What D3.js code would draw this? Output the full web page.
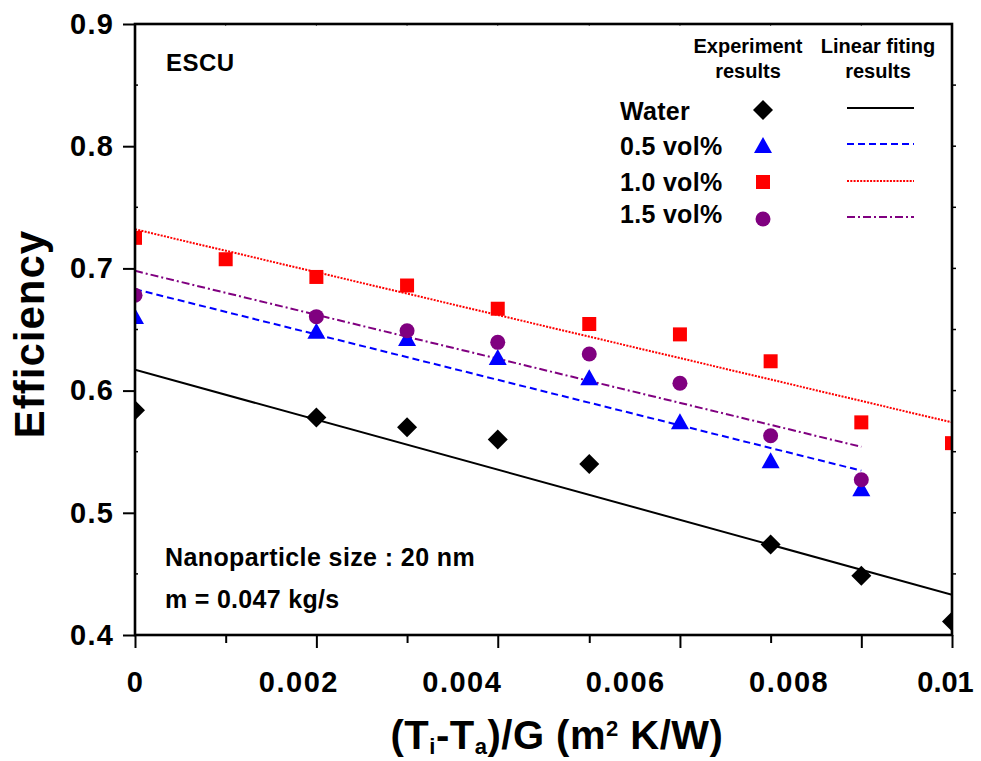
<!DOCTYPE html>
<html>
<head>
<meta charset="utf-8">
<script src="https://cdn.jsdelivr.net/npm/d3@7"></script>
<style>
  html, body { margin: 0; padding: 0; background: #fff; }
  svg { display: block; font-family: "Liberation Sans", Arial, Helvetica, sans-serif; font-weight: bold; }
</style>
</head>
<body>
<svg id="chart" width="981" height="761"></svg>
<script>
// Measurement positions (m2 K/W) shared by all series
const xPoints = [0, 0.00111, 0.00222, 0.00333, 0.00444, 0.00556, 0.00667, 0.00778, 0.00889, 0.01];

// Measured efficiency for each working fluid (null = not measured)
const waterEff = [0.584, null, 0.578, 0.570, 0.560, 0.540, null, 0.474, 0.4485, 0.411];
const vol05Eff = [0.661, null, 0.649, 0.643, 0.6275, 0.611, 0.575, 0.543, 0.520, null];
const vol10Eff = [0.725, 0.7075, 0.693, 0.686, 0.667, 0.6545, 0.646, 0.624, 0.574, 0.557];
const vol15Eff = [0.678, null, 0.6605, 0.649, 0.6395, 0.630, 0.606, 0.563, 0.527, null];

// Linear fits: start / end abscissa and efficiency
const seriesNames = ["Water", "0.5 vol%", "1.0 vol%", "1.5 vol%"];
const fitXStart = [0, 0, 0, 0];
const fitXEnd = [0.01, 0.00889, 0.01, 0.00889];
const fitYStart = [0.617, 0.683, 0.732, 0.698];
const fitYEnd = [0.433, 0.5345, 0.574, 0.554];

// Axis ticks
const xTickLabels = [0, 0.002, 0.004, 0.006, 0.008, 0.01];
const yTickLabels = [0.4, 0.5, 0.6, 0.7, 0.8, 0.9];
const yMinorTicks = [0.45, 0.55, 0.65, 0.75, 0.85];

const svg = d3.select("#chart");
const mLeft = 135, mRight = 952, mTop = 24, mBottom = 635;

const x = d3.scaleLinear().domain([0, 0.01]).range([mLeft, mRight]);
const y = d3.scaleLinear().domain([0.4, 0.9]).range([mBottom, mTop]);

const colors = ["#000000", "#0000ff", "#ff0000", "#800080"];
const dashes = [null, "7,4", "2,1.3", "8,3,2,3"];
const values = [waterEff, vol05Eff, vol10Eff, vol15Eff];

// Marker shapes
const shapes = {
  diamond: "M0,-10L10,0L0,10L-10,0Z",
  triangle: "M0,-8L9,8L-9,8Z",
  square: "M-7,-7L7,-7L7,7L-7,7Z",
  circle: "M7.5,0A7.5,7.5 0 1,1 -7.5,0A7.5,7.5 0 1,1 7.5,0Z"
};
const shapeOf = ["diamond", "triangle", "square", "circle"];

svg.append("rect").attr("width", 981).attr("height", 761).attr("fill", "#fff");

svg.append("defs").append("clipPath").attr("id", "plotClip")
  .append("rect").attr("x", mLeft).attr("y", mTop)
  .attr("width", mRight - mLeft).attr("height", mBottom - mTop);

const plot = svg.append("g").attr("clip-path", "url(#plotClip)");

// Fit lines
seriesNames.forEach((name, i) => {
  plot.append("line")
    .attr("x1", x(fitXStart[i])).attr("y1", y(fitYStart[i]))
    .attr("x2", x(fitXEnd[i])).attr("y2", y(fitYEnd[i]))
    .attr("stroke", colors[i]).attr("stroke-width", 2)
    .attr("stroke-dasharray", dashes[i]);
});

// Measured points
seriesNames.forEach((name, i) => {
  const pts = xPoints.map((xv, k) => [xv, values[i][k]]).filter(d => d[1] !== null);
  plot.append("g").selectAll("path").data(pts).join("path")
    .attr("d", shapes[shapeOf[i]])
    .attr("transform", d => `translate(${x(d[0])},${y(d[1])})`)
    .attr("fill", colors[i]);
});

const axes = svg.append("g");

// Bottom axis: tick marks at the measurement positions
const bottomAxis = axes.append("g").attr("transform", `translate(0,${mBottom})`)
  .call(d3.axisBottom(x).tickValues(xPoints).tickFormat("").tickSizeOuter(0).tickSize(13));
bottomAxis.selectAll(".tick line")
  .attr("y2", (d, k) => (k % 2 === 1 && k < 8) ? 8 : 13)
  .attr("stroke-width", 2);
bottomAxis.select(".domain").remove();

// Bottom axis labels
axes.append("g").attr("transform", `translate(0,${mBottom})`)
  .call(d3.axisBottom(x).tickValues(xTickLabels).tickSize(0).tickPadding(36)
    .tickFormat(d => d === 0 ? "0" : (d === 0.01 ? "0.01" : d3.format(".3f")(d))))
  .call(g => g.select(".domain").remove())
  .selectAll("text")
  .attr("font-size", 29).attr("font-weight", "bold").attr("fill", "#000")
  .attr("font-family", '"Liberation Sans", Arial, sans-serif')
  .attr("letter-spacing", d => d === 0.01 ? 0 : 1.5)
  .attr("dx", d => d === 0.01 ? -7 : 0);

// Top axis tiny ticks
axes.append("g").selectAll("line").data(xPoints).join("line")
  .attr("x1", d => x(d)).attr("x2", d => x(d))
  .attr("y1", mTop).attr("y2", mTop + 2)
  .attr("stroke", "#555").attr("stroke-width", 1);

// Left axis
const leftAxis = axes.append("g").attr("transform", `translate(${mLeft},0)`)
  .call(d3.axisLeft(y).tickValues(yTickLabels).tickSize(12).tickPadding(9).tickSizeOuter(0)
    .tickFormat(d3.format(".1f")));
leftAxis.select(".domain").remove();
leftAxis.selectAll(".tick line").attr("stroke-width", 2);
leftAxis.selectAll("text")
  .attr("font-size", 29).attr("font-weight", "bold").attr("fill", "#000")
  .attr("font-family", '"Liberation Sans", Arial, sans-serif')
  .attr("letter-spacing", 1.2);

axes.append("g").selectAll("line").data(yMinorTicks).join("line")
  .attr("x1", mLeft).attr("x2", mLeft + 3)
  .attr("y1", d => y(d)).attr("y2", d => y(d))
  .attr("stroke", "#000").attr("stroke-width", 1.5);

// Right axis ticks, outward
axes.append("g").selectAll("line").data(yMinorTicks.concat([0.5, 0.6, 0.7, 0.8]))
  .join("line")
  .attr("x1", mRight).attr("x2", mRight + 4)
  .attr("y1", d => y(d)).attr("y2", d => y(d))
  .attr("stroke", "#000").attr("stroke-width", 1.5);

// Plot border
axes.append("rect")
  .attr("x", mLeft).attr("y", mTop).attr("width", mRight - mLeft).attr("height", mBottom - mTop)
  .attr("fill", "none").attr("stroke", "#000").attr("stroke-width", 2.6);

// Axis titles
svg.append("text")
  .attr("transform", `translate(44,334) rotate(-90)`)
  .attr("text-anchor", "middle").attr("font-size", 42).attr("letter-spacing", 1)
  .text("Efficiency");

const xt = svg.append("text").attr("x", 557).attr("y", 749)
  .attr("text-anchor", "middle").attr("font-size", 40).attr("letter-spacing", 0.5);
xt.append("tspan").text("(T");
xt.append("tspan").attr("font-size", 22).attr("dy", 5).text("i");
xt.append("tspan").attr("dy", -5).text("-T");
xt.append("tspan").attr("font-size", 22).attr("dy", 5).text("a");
xt.append("tspan").attr("dy", -5).text(")/G (m");
xt.append("tspan").attr("font-size", 22).attr("dy", -13).text("2");
xt.append("tspan").attr("dy", 13).text(" K/W)");

// Annotations
svg.append("text").attr("x", 166).attr("y", 71).attr("font-size", 24)
  .attr("letter-spacing", 0.5).text("ESCU");
svg.append("text").attr("x", 165).attr("y", 566).attr("font-size", 25)
  .attr("letter-spacing", 0.4).text("Nanoparticle size : 20 nm");
svg.append("text").attr("x", 165).attr("y", 608).attr("font-size", 25)
  .attr("letter-spacing", 0.3).text("m = 0.047 kg/s");

// Legend
const legend = svg.append("g");
[["Experiment", 53, 748], ["results", 78, 748], ["Linear fiting", 53, 878], ["results", 78, 878]]
  .forEach(([t, yy, xx]) => {
    legend.append("text").attr("x", xx).attr("y", yy).attr("text-anchor", "middle")
      .attr("font-size", 20).text(t);
  });

const legLabelY = [120, 155, 191, 223];
const legSymY = [110, 145, 182, 219];
const legLineY = [108, 144, 181, 217];
seriesNames.forEach((name, i) => {
  legend.append("text").attr("x", 620).attr("y", legLabelY[i])
    .attr("font-size", 25).attr("letter-spacing", 0.3).text(name);
  legend.append("path").attr("d", shapes[shapeOf[i]])
    .attr("transform", `translate(763,${legSymY[i]})`).attr("fill", colors[i]);
  legend.append("line").attr("x1", 847).attr("x2", 914)
    .attr("y1", legLineY[i]).attr("y2", legLineY[i])
    .attr("stroke", colors[i]).attr("stroke-width", 2)
    .attr("stroke-dasharray", dashes[i]);
});
</script>
</body>
</html>
